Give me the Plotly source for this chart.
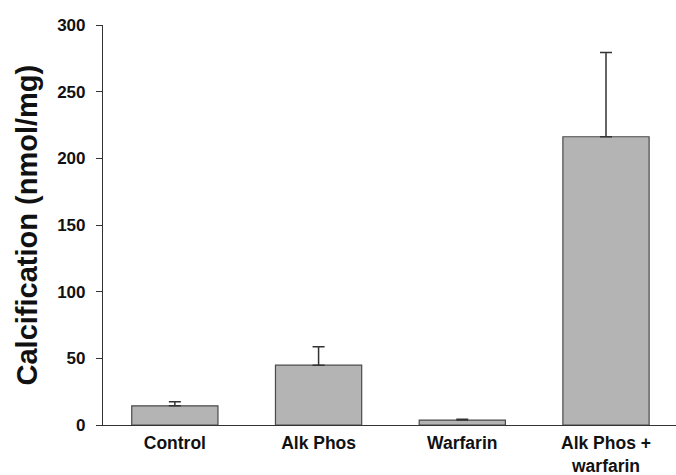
import plotly.graph_objects as go

categories = ["Control", "Alk Phos", "Warfarin", "Alk Phos +<br>warfarin"]
means = [14.4, 44.9, 3.7, 216.2]
sem_plus = [3.0, 13.7, 0.6, 63.1]
y_ticks = [0, 50, 100, 150, 200, 250, 300]

FONT = "Liberation Sans, Arial, Helvetica, sans-serif"

fig = go.Figure()
fig.add_trace(go.Bar(
    x=categories,
    y=means,
    width=0.6,
    marker=dict(color="#b4b4b4", line=dict(color="#4a4a4a", width=1.2)),
    error_y=dict(type="data", symmetric=False, array=sem_plus,
                 arrayminus=[0] * len(sem_plus),
                 color="#333333", thickness=1.5, width=6),
    showlegend=False,
))

fig.update_layout(
    template="none",
    width=676, height=475,
    margin=dict(l=103, r=0, t=25, b=50),
    paper_bgcolor="white", plot_bgcolor="white",
    font=dict(family=FONT, color="#000000"),
    bargap=0.4,
)
fig.update_xaxes(
    type="category", range=[-0.5, 3.487], automargin=False,
    showline=True, linecolor="#333333", linewidth=1.2,
    ticks="", showgrid=False, zeroline=False,
    tickfont=dict(family=FONT, size=17.5, color="#111111", weight="bold"),
    ticklabelstandoff=2,
)
fig.update_yaxes(
    range=[0, 300], tickvals=y_ticks, automargin=False,
    showline=True, linecolor="#333333", linewidth=1.2,
    ticks="outside", ticklen=6, tickcolor="#333333", tickwidth=1.2,
    showgrid=False, zeroline=False,
    tickfont=dict(family=FONT, size=17, color="#111111", weight="bold"),
    ticklabelstandoff=7,
)
fig.add_annotation(
    text="<b>Calcification (nmol/mg)</b>",
    xref="paper", yref="paper", x=-0.1318, y=0.5,
    xanchor="center", yanchor="middle", textangle=-90,
    showarrow=False, font=dict(family=FONT, size=29, color="#111111"),
)

fig.write_html("out.html", config={"displayModeBar": False},
               post_script="document.body.style.margin='0px';document.body.style.padding='0px';")
